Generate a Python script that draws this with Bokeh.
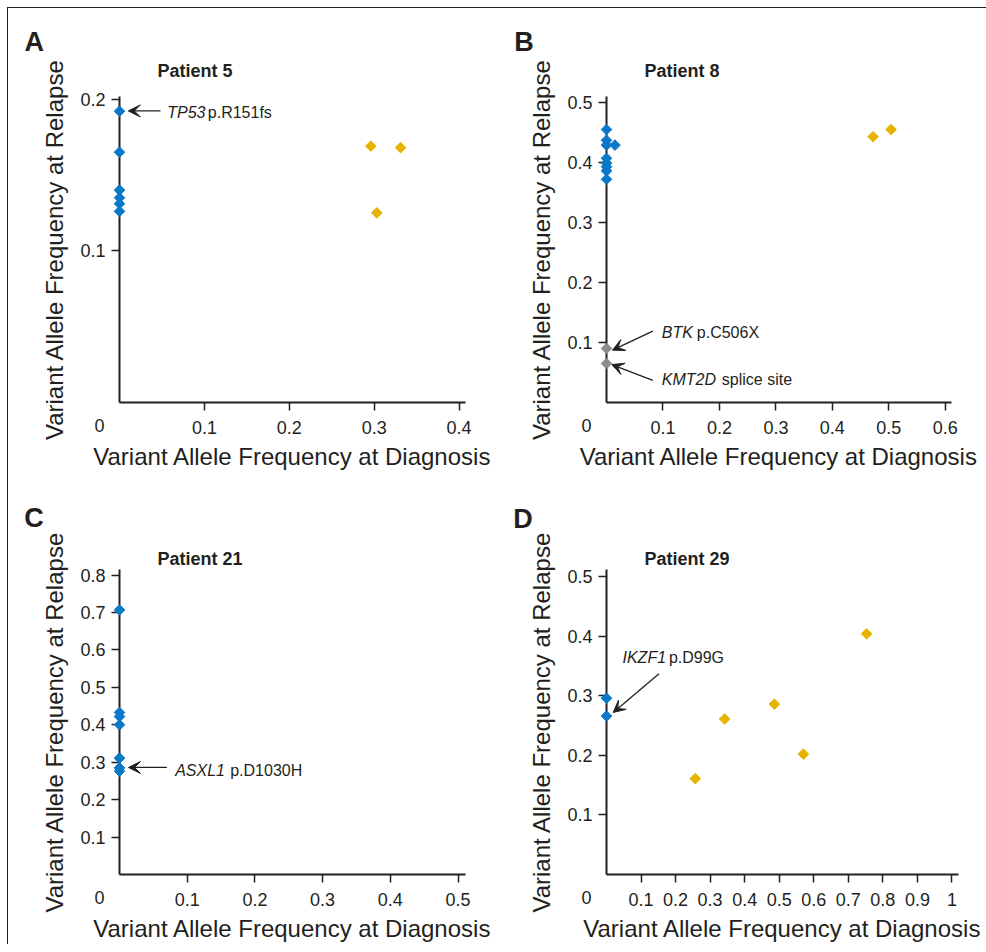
import math
from bokeh.plotting import figure
from bokeh.models import Range1d, FixedTicker, Arrow, VeeHead
from bokeh.layouts import column, row
from bokeh.embed import file_html
from bokeh.resources import INLINE
from bokeh.core.properties import value

# ---------------- data ----------------
# Panel A - Patient 5
p5_blue_x = [0.0, 0.0, 0.0, 0.0, 0.0, 0.0]
p5_blue_y = [0.192, 0.165, 0.140, 0.135, 0.131, 0.126]
p5_gold_x = [0.296, 0.331, 0.303]
p5_gold_y = [0.169, 0.168, 0.125]
p5_xticks = [0.1, 0.2, 0.3, 0.4]
p5_xlabels = ["0.1", "0.2", "0.3", "0.4"]
p5_yticks = [0.1, 0.2]
p5_ylabels = ["0.1", "0.2"]

# Panel B - Patient 8
p8_blue_x = [0.0, 0.0, 0.0, 0.0, 0.0, 0.0, 0.0, 0.0, 0.015]
p8_blue_y = [0.455, 0.437, 0.429, 0.407, 0.399, 0.393, 0.386, 0.372, 0.429]
p8_gray_x = [0.0, 0.0]
p8_gray_y = [0.090, 0.065]
p8_gold_x = [0.472, 0.504]
p8_gold_y = [0.443, 0.455]
p8_xticks = [0.1, 0.2, 0.3, 0.4, 0.5, 0.6]
p8_xlabels = ["0.1", "0.2", "0.3", "0.4", "0.5", "0.6"]
p8_yticks = [0.1, 0.2, 0.3, 0.4, 0.5]
p8_ylabels = ["0.1", "0.2", "0.3", "0.4", "0.5"]

# Panel C - Patient 21
p21_blue_x = [0.0, 0.0, 0.0, 0.0, 0.0, 0.0, 0.0]
p21_blue_y = [0.707, 0.433, 0.422, 0.400, 0.311, 0.285, 0.276]
p21_xticks = [0.1, 0.2, 0.3, 0.4, 0.5]
p21_xlabels = ["0.1", "0.2", "0.3", "0.4", "0.5"]
p21_yticks = [0.1, 0.2, 0.3, 0.4, 0.5, 0.6, 0.7, 0.8]
p21_ylabels = ["0.1", "0.2", "0.3", "0.4", "0.5", "0.6", "0.7", "0.8"]

# Panel D - Patient 29
p29_blue_x = [0.0, 0.0]
p29_blue_y = [0.296, 0.266]
p29_gold_x = [0.257, 0.342, 0.486, 0.570, 0.753]
p29_gold_y = [0.161, 0.261, 0.286, 0.202, 0.404]
p29_xticks = [0.1, 0.2, 0.3, 0.4, 0.5, 0.6, 0.7, 0.8, 0.9, 1.0]
p29_xlabels = ["0.1", "0.2", "0.3", "0.4", "0.5", "0.6", "0.7", "0.8", "0.9", "1"]
p29_yticks = [0.1, 0.2, 0.3, 0.4, 0.5]
p29_ylabels = ["0.1", "0.2", "0.3", "0.4", "0.5"]

# ---------------- style ----------------
BLUE = "#0a78c8"
GOLD = "#e6b400"
GRAY = "#8c8c8c"
INK = "#231f20"
FONT = "Liberation Sans"
XLABEL = "Variant Allele Frequency at Diagnosis"
YLABEL = "Variant Allele Frequency at Relapse"


def add_text(p, x, y, text, dx, dy, size, style="normal", align="left"):
    # dy: screen pixels downward from the anchor to the text baseline
    corr = 0.3 * size
    r = p.text(x=[x], y=[y], text=[text], x_offset=dx, y_offset=dy - corr,
               text_font=value(FONT), text_font_size=value(f"{size}px"),
               text_font_style=style, text_align=align,
               text_baseline="alphabetic", text_color=INK)
    r.level = "overlay"


def make_panel(letter, title, width, xmax, ymax, xticks, xlabels, yticks, ylabels,
               borders, series, notes, arrows, title_dy, letter_dx, letter_dy):
    left, right, top, bottom = borders
    p = figure(width=width, height=468,
               x_range=Range1d(0, xmax), y_range=Range1d(0, ymax),
               output_backend="svg", toolbar_location=None, tools="",
               min_border_left=left, min_border_right=right,
               min_border_top=top, min_border_bottom=bottom)
    p.outline_line_color = None
    p.xgrid.visible = False
    p.ygrid.visible = False
    p.background_fill_color = "white"
    p.border_fill_color = "white"

    for ax, ticks, labels in ((p.xaxis[0], xticks, xlabels), (p.yaxis[0], yticks, ylabels)):
        ax.ticker = FixedTicker(ticks=ticks)
        ax.major_label_overrides = {t: l for t, l in zip(ticks, labels)}
        ax.axis_line_width = 2
        ax.axis_line_color = INK
        ax.major_tick_line_width = 1.5
        ax.major_tick_line_color = INK
        ax.major_tick_out = 8
        ax.major_tick_in = 0
        ax.minor_tick_line_color = None
        ax.major_label_text_font = FONT
        ax.major_label_text_font_size = "18px"
        ax.major_label_text_color = INK
        ax.axis_label_text_font = FONT
        ax.axis_label_text_font_size = "24px"
        ax.axis_label_text_font_style = "normal"
        ax.axis_label_text_color = INK
    p.xaxis[0].axis_label = XLABEL
    p.yaxis[0].axis_label = YLABEL
    p.xaxis[0].major_label_standoff = 10
    p.yaxis[0].major_label_standoff = 6
    p.xaxis[0].axis_label_standoff = 6
    p.yaxis[0].axis_label_standoff = 9

    for xs, ys, color in series:
        r = p.scatter(xs, ys, marker="square", angle=math.pi / 4, size=7.5,
                      fill_color=color, line_color=color, line_width=1)
        r.level = "overlay"

    # origin "0", panel title and panel letter (screen offsets from the axis corner)
    add_text(p, 0, 0, "0", -20, 28, 18, align="center")
    add_text(p, 0, ymax, title, 38, -title_dy, 18, style="bold")
    add_text(p, 0, ymax, letter, letter_dx, -letter_dy, 27, style="bold")

    for (x0, y0, x1, y1) in arrows:
        p.add_layout(Arrow(x_start=x0, y_start=y0, x_end=x1, y_end=y1,
                           line_color=INK, line_width=1.3,
                           end=VeeHead(size=12, fill_color=INK, line_color=INK, line_width=1)))

    for (ital, norm, dx_i, dx_n, yb) in notes:
        add_text(p, 0, yb, ital, dx_i, 0, 16, style="italic")
        add_text(p, 0, yb, norm, dx_n, 0, 16)
    return p


pA = make_panel("A", "Patient 5", 485, 0.4075, 0.2017, p5_xticks, p5_xlabels, p5_yticks, p5_ylabels,
                (111, 28, 88, 74),
                [(p5_blue_x, p5_blue_y, BLUE), (p5_gold_x, p5_gold_y, GOLD)],
                [("TP53", "p.R151fs", 47.7, 88.3, 0.188)],
                [(0.0483, 0.1922, 0.0104, 0.1922)],
                20, -95, 46)

pB = make_panel("B", "Patient 8", 493, 0.611, 0.51, p8_xticks, p8_xlabels, p8_yticks, p8_ylabels,
                (113, 35, 88, 74),
                [(p8_blue_x, p8_blue_y, BLUE), (p8_gray_x, p8_gray_y, GRAY),
                 (p8_gold_x, p8_gold_y, GOLD)],
                [("BTK", "p.C506X", 55.3, 90.3, 0.109),
                 ("KMT2D", "splice site", 55.3, 115.3, 0.0305)],
                [(0.082, 0.119, 0.0106, 0.0872), (0.082, 0.037, 0.0094, 0.0633)],
                20, -92.3, 46)

pC = make_panel("C", "Patient 21", 485, 0.511, 0.815, p21_xticks, p21_xlabels, p21_yticks, p21_ylabels,
                (111, 28, 93, 69),
                [(p21_blue_x, p21_blue_y, BLUE)],
                [("ASXL1", "p.D1030H", 55.7, 110.7, 0.266)],
                [(0.070, 0.286, 0.0133, 0.286)],
                5.6, -95.3, 43.3)

pD = make_panel("D", "Patient 29", 493, 1.019, 0.512, p29_xticks, p29_xlabels, p29_yticks, p29_ylabels,
                (113, 28, 92, 69),
                [(p29_blue_x, p29_blue_y, BLUE), (p29_gold_x, p29_gold_y, GOLD)],
                [("IKZF1", "p.D99G", 16, 62.4, 0.3555)],
                [(0.152, 0.337, 0.0194, 0.272)],
                5, -93.3, 42.3)

layout = column(row(pA, pB), row(pC, pD),
                styles={"border-top": "1px solid #231f20", "border-left": "1px solid #231f20",
                        "margin-left": "7px", "margin-top": "7px"})

open("out.html", "w").write(file_html(layout, INLINE))
